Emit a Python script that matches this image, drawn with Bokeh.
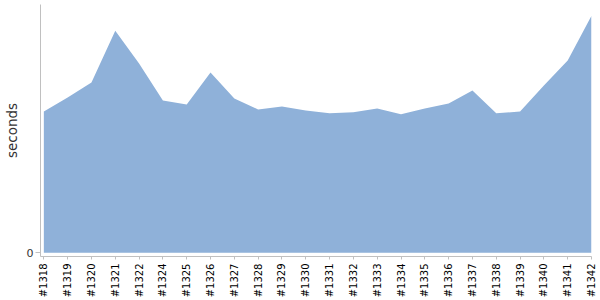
import math
from bokeh.plotting import figure
from bokeh.models import FixedTicker, Range1d
from bokeh.embed import file_html
from bokeh.resources import INLINE

builds = ["#1318", "#1319", "#1320", "#1321", "#1322", "#1324", "#1325", "#1326",
          "#1327", "#1328", "#1329", "#1330", "#1331", "#1332", "#1333", "#1334",
          "#1335", "#1336", "#1337", "#1338", "#1339", "#1340", "#1341", "#1342"]
seconds = [14.2, 15.6, 17.1, 22.3, 19.0, 15.3, 14.9, 18.1, 15.5, 14.4, 14.7, 14.3,
           14.0, 14.1, 14.5, 13.9, 14.5, 15.0, 16.3, 14.0, 14.2, 16.8, 19.3, 23.8]

xs = list(range(len(builds)))

p = figure(width=600, height=300, output_backend="svg", toolbar_location=None,
           x_range=Range1d(-0.14, len(builds) - 1), y_range=Range1d(-0.37, 24.93),
           min_border_left=40, min_border_right=9, min_border_top=4, min_border_bottom=43)
p.outline_line_color = None
p.xgrid.grid_line_color = None
p.ygrid.grid_line_color = None

p.varea(x=xs, y1=[0] * len(xs), y2=seconds, fill_color="#8fb1d9", fill_alpha=1.0)

# x axis
p.xaxis.ticker = FixedTicker(ticks=xs)
p.xaxis.major_label_overrides = {i: b for i, b in enumerate(builds)}
p.xaxis.major_label_orientation = math.pi / 2
p.xaxis.major_label_text_font = "DejaVu Sans"
p.xaxis.major_label_text_font_size = "10px"
p.xaxis.major_label_text_color = "#000000"
p.xaxis.major_tick_in = 0
p.xaxis.major_tick_out = 3
p.xaxis.minor_tick_line_color = None
p.xaxis.major_label_standoff = 4
p.xaxis.axis_line_color = "#c0c0c0"
p.xaxis.major_tick_line_color = "#c0c0c0"

# y axis
p.yaxis.ticker = FixedTicker(ticks=[0])
p.yaxis.major_label_text_font = "DejaVu Sans"
p.yaxis.major_label_text_font_size = "11px"
p.yaxis.major_label_text_color = "#333333"
p.yaxis.major_tick_in = 0
p.yaxis.major_tick_out = 5
p.yaxis.minor_tick_line_color = None
p.yaxis.major_label_standoff = 2
p.yaxis.axis_line_color = "#c0c0c0"
p.yaxis.major_tick_line_color = "#c0c0c0"
p.yaxis.axis_label = "seconds"
p.yaxis.axis_label_text_font = "DejaVu Sans"
p.yaxis.axis_label_text_font_size = "13.5px"
p.yaxis.axis_label_text_font_style = "normal"
p.yaxis.axis_label_text_color = "#333333"
p.yaxis.axis_label_standoff = 4

open("out.html", "w").write(file_html(p, INLINE))
